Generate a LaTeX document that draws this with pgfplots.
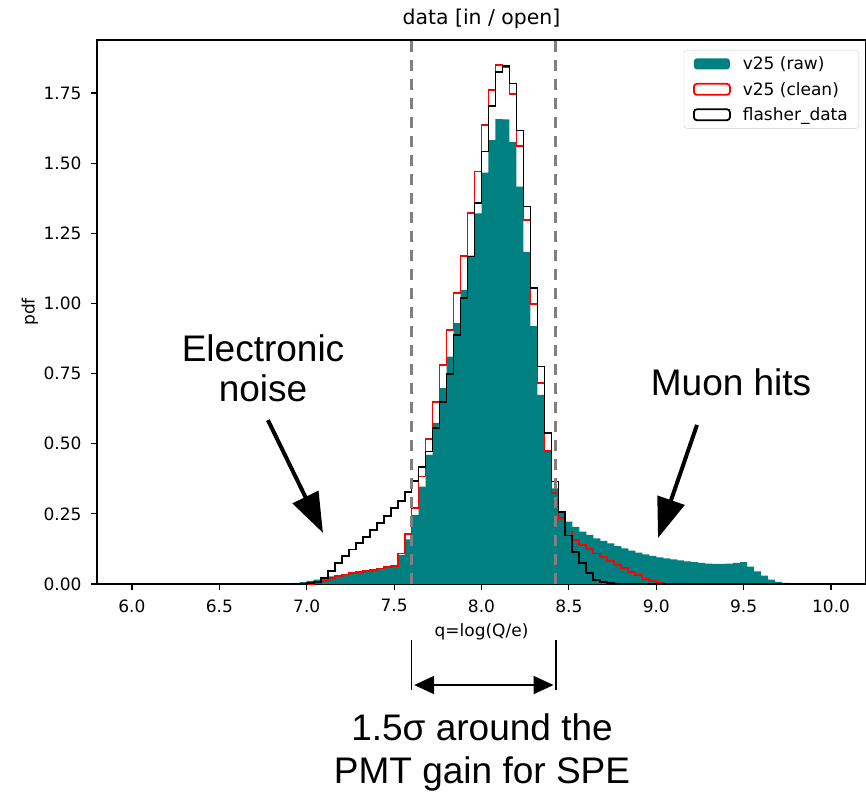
\documentclass[border=0pt]{standalone}
\usepackage{pgfplots}
\pgfplotsset{compat=1.18}
\usepackage{pgfplotstable}
\usepackage{fontspec}
\setmainfont{DejaVu Sans}
\newfontfamily\annot{Liberation Sans}
\usetikzlibrary{arrows.meta}
\definecolor{tealc}{RGB}{0,128,128}
\definecolor{dgray}{RGB}{128,128,128}

% v25 (raw): bin left edge, pdf (bin width 0.04)
\pgfplotstableread{
x y
6.00 0
6.80 0
6.84 0.001
6.88 0.002
6.92 0.004
6.96 0.007
7.00 0.011
7.04 0.016
7.08 0.022
7.12 0.027
7.16 0.031
7.20 0.035
7.24 0.039
7.28 0.042
7.32 0.046
7.36 0.050
7.40 0.054
7.44 0.058
7.48 0.060
7.52 0.103
7.56 0.159
7.60 0.246
7.64 0.347
7.68 0.460
7.72 0.574
7.76 0.698
7.80 0.810
7.84 0.930
7.88 1.048
7.92 1.170
7.96 1.321
8.00 1.466
8.04 1.582
8.08 1.657
8.12 1.656
8.16 1.576
8.20 1.416
8.24 1.184
8.28 0.919
8.32 0.674
8.36 0.470
8.40 0.341
8.44 0.261
8.48 0.222
8.52 0.204
8.56 0.187
8.60 0.175
8.64 0.163
8.68 0.154
8.72 0.145
8.76 0.135
8.80 0.127
8.84 0.119
8.88 0.112
8.92 0.106
8.96 0.100
9.00 0.095
9.04 0.091
9.08 0.088
9.12 0.084
9.16 0.081
9.20 0.078
9.24 0.075
9.28 0.073
9.32 0.072
9.36 0.072
9.40 0.073
9.44 0.075
9.48 0.078
9.52 0.062
9.56 0.045
9.60 0.030
9.64 0.016
9.68 0.008
9.72 0.004
9.76 0.001
9.80 0
10.00 0
}\rawtab

% v25 (clean)
\pgfplotstableread{
x y
6.00 0
7.00 0
7.04 0.003
7.08 0.010
7.12 0.020
7.16 0.028
7.20 0.034
7.24 0.039
7.28 0.043
7.32 0.047
7.36 0.051
7.40 0.055
7.44 0.060
7.48 0.064
7.52 0.109
7.56 0.177
7.60 0.270
7.64 0.383
7.68 0.516
7.72 0.650
7.76 0.780
7.80 0.905
7.84 1.036
7.88 1.170
7.92 1.323
7.96 1.470
8.00 1.636
8.04 1.760
8.08 1.850
8.12 1.841
8.16 1.746
8.20 1.561
8.24 1.297
8.28 0.997
8.32 0.715
8.36 0.475
8.40 0.323
8.44 0.236
8.48 0.187
8.52 0.157
8.56 0.139
8.60 0.124
8.64 0.109
8.68 0.097
8.72 0.083
8.76 0.068
8.80 0.056
8.84 0.044
8.88 0.032
8.92 0.018
8.96 0.011
9.00 0.005
9.04 0.002
9.08 0
10.00 0
}\cleantab

% flasher_data
\pgfplotstableread{
x y
6.00 0
6.92 0
6.96 0.001
7.00 0.003
7.04 0.008
7.08 0.020
7.12 0.045
7.16 0.075
7.20 0.100
7.24 0.123
7.28 0.145
7.32 0.168
7.36 0.192
7.40 0.217
7.44 0.243
7.48 0.270
7.52 0.295
7.56 0.328
7.60 0.366
7.64 0.418
7.68 0.472
7.72 0.555
7.76 0.650
7.80 0.748
7.84 0.887
7.88 1.020
7.92 1.167
7.96 1.357
8.00 1.541
8.04 1.703
8.08 1.826
8.12 1.846
8.16 1.784
8.20 1.616
8.24 1.345
8.28 1.056
8.32 0.775
8.36 0.539
8.40 0.365
8.44 0.258
8.48 0.173
8.52 0.115
8.56 0.074
8.60 0.038
8.64 0.014
8.68 0.006
8.72 0.003
8.76 0.001
8.80 0
10.00 0
}\flashtab

\begin{document}
\begin{tikzpicture}
\begin{axis}[
  width=769pt, height=544pt, scale only axis,
  xmin=5.8, xmax=10.2, ymin=0, ymax=1.9387,
  clip=false,
  axis line style={line width=1.2pt},
  tick align=outside, tick pos=left,
  major tick length=6pt,
  every tick/.style={black, line width=1.2pt},
  xtick={6,6.5,7,7.5,8,8.5,9,9.5,10},
  ytick={0,0.25,0.5,0.75,1,1.25,1.5,1.75},
  /pgf/number format/assume math mode=true,
  tick label style={font=\fontsize{17}{20}\selectfont},
  xticklabel style={/pgf/number format/fixed, /pgf/number format/fixed zerofill, /pgf/number format/precision=1, yshift=-6pt},
  yticklabel style={/pgf/number format/fixed, /pgf/number format/fixed zerofill, /pgf/number format/precision=2, xshift=-6pt},
  xlabel={q=log(Q/e)},
  xlabel style={font=\fontsize{17}{20}\selectfont, at={(rel axis cs:0.5,0)}, anchor=center, yshift=-48pt},
  ylabel={pdf},
  ylabel style={font=\fontsize{17}{20}\selectfont, at={(rel axis cs:0,0.5)}, anchor=center, yshift=67pt},
  legend style={at={(rel axis cs:1,1)}, anchor=north east, xshift=-7pt, yshift=-10pt,
    draw=black!20, rounded corners=3pt, fill=white,
    font=\fontsize{17}{20}\selectfont, inner xsep=9pt, inner ysep=4.5pt, row sep=7pt,
    /tikz/every odd column/.append style={column sep=10pt}},
  legend cell align=left,
]
\addplot[const plot, fill=tealc, draw=none,
  legend image code/.code={\fill[tealc] (0pt,-5.5pt) rectangle (36pt,5.5pt);}]
  table {\rawtab} \closedcycle;
\addplot[const plot, draw=red, line width=1.8pt, line join=miter,
  legend image code/.code={\draw[red, line width=1.8pt, fill=white] (0pt,-5.5pt) rectangle (36pt,5.5pt);}]
  table {\cleantab};
\addplot[const plot, draw=black, line width=1.8pt, line join=miter,
  legend image code/.code={\draw[black, line width=1.8pt, fill=white] (0pt,-5.5pt) rectangle (36pt,5.5pt);}]
  table {\flashtab};
\legend{v25 (raw), v25 (clean), flasher\_data}

% 1.5 sigma window
\draw[dgray, line width=3pt, dash pattern=on 11pt off 8pt] (axis cs:7.60,0) -- (axis cs:7.60,1.9387);
\draw[dgray, line width=3pt, dash pattern=on 11pt off 8pt] (axis cs:8.425,0) -- (axis cs:8.425,1.9387);

% title
\node[anchor=base, font=\fontsize{20.4}{24}\selectfont] at (rel axis cs:0.5,1) [yshift=15pt] {data [in / open]};

% annotations
\node[align=center, font=\annot\fontsize{37}{40}\selectfont] at (axis cs:6.750,0.770) {Electronic\\noise};
\node[font=\annot\fontsize{37}{40}\selectfont] at (axis cs:9.428,0.720) {Muon hits};
\draw[line width=4pt, -{Triangle[length=40pt,width=28pt]}] (axis cs:6.778,0.584) -- (axis cs:7.093,0.182);
\draw[line width=4pt, -{Triangle[length=40pt,width=28pt]}] (axis cs:9.233,0.567) -- (axis cs:9.010,0.164);

\draw[line width=1.5pt] (axis cs:7.60,-0.1996) -- (axis cs:7.60,-0.3778);
\draw[line width=1.5pt] (axis cs:8.426,-0.1996) -- (axis cs:8.426,-0.3778);
\draw[line width=2pt, {Triangle[length=20pt,width=18pt]}-{Triangle[length=20pt,width=18pt]}] (axis cs:7.615,-0.360) -- (axis cs:8.412,-0.360);
\node[align=center, font=\annot\fontsize{37}{43}\selectfont] at (axis cs:8.003,-0.602) {1.5σ around the\\PMT gain for SPE};
\end{axis}
\pgfresetboundingbox
\path[use as bounding box] ([xshift=-97pt,yshift=-209pt]current axis.south west) rectangle ([yshift=40pt]current axis.north east);
\end{tikzpicture}
\end{document}
